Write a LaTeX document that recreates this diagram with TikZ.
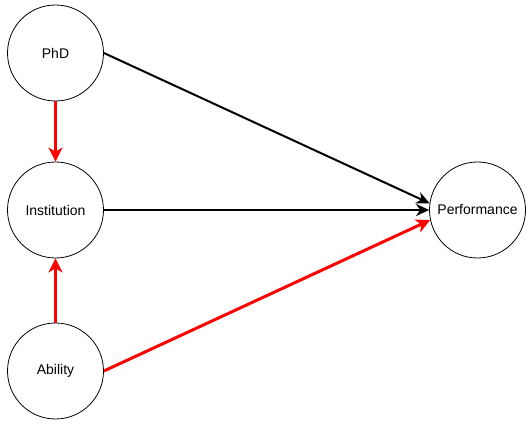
\documentclass[tikz,border=0pt]{standalone}
\usepackage{fontspec}
\setmainfont{Liberation Sans}
\usetikzlibrary{arrows.meta}
\begin{document}
\begin{tikzpicture}[x=1pt,y=1pt,
  var/.style={draw, circle, line width=0.8pt, minimum size=96pt, inner sep=0pt, font=\fontsize{14}{16}\selectfont},
  blackarr/.style={line width=2pt, -{Stealth[length=13pt,width=12pt,inset=4pt]}},
  redarr/.style={draw=red, line width=3pt, -{Stealth[length=14pt,width=14pt,inset=4pt]}, red}]
\useasboundingbox[fill=white] (0,0) rectangle (532,425);
\node[var] (phd) at (55.5,372) {PhD};
\node[var] (inst) at (55.5,215) {Institution};
\node[var] (abil) at (55.5,54) {Ability};
\node[var] (perf) at (477.5,215) {Performance};
\draw[redarr] (phd.south) -- (inst.north);
\draw[redarr] (abil.north) -- (inst.south);
\draw[blackarr] (inst.east) -- (perf.west);
\draw[blackarr] (phd.east) -- (perf.172);
\draw[redarr] (abil.east) -- (perf.192);
\end{tikzpicture}
\end{document}
